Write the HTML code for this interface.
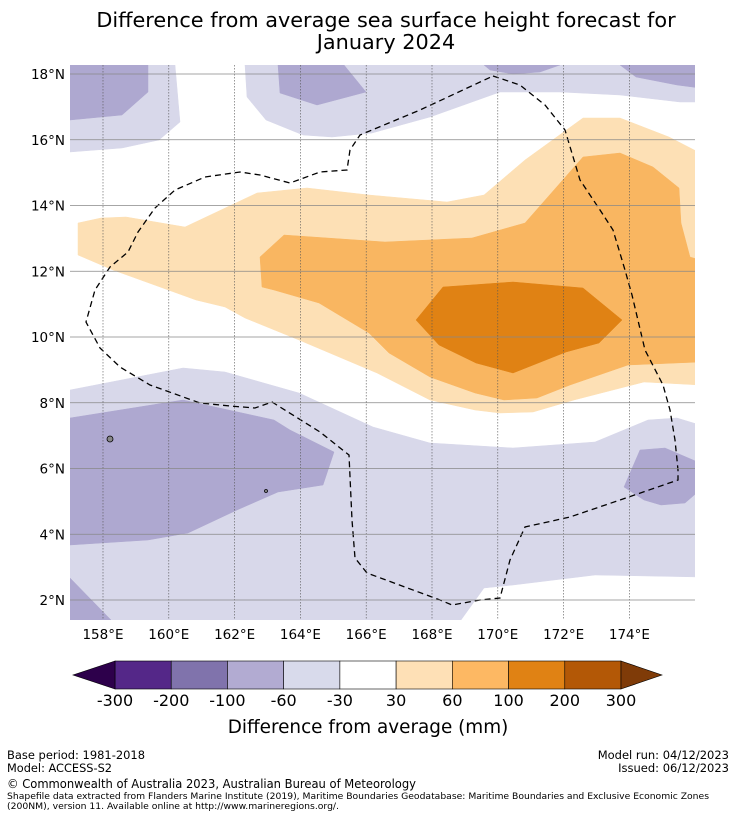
<!DOCTYPE html>
<html><head><meta charset="utf-8">
<style>
html,body{margin:0;padding:0;background:#fff;}
body{width:736px;height:816px;overflow:hidden;font-family:"DejaVu Sans","Liberation Sans",sans-serif;}
svg text{font-family:"DejaVu Sans","Liberation Sans",sans-serif;}
</style></head>
<body>
<svg id="chart" width="736" height="816" xmlns="http://www.w3.org/2000/svg">
<text x="386" y="27" font-size="20.8" text-anchor="middle">Difference from average sea surface height forecast for</text>
<text x="386" y="49" font-size="20.8" text-anchor="middle">January 2024</text>
<defs><clipPath id="mapclip"><rect x="70" y="65" width="625" height="555"/></clipPath></defs>
<g id="map" clip-path="url(#mapclip)"></g>
<g id="grid"></g>
<g id="axes"></g>
<g id="cbar"></g>
<text x="368" y="733" font-size="18.4" text-anchor="middle">Difference from average (mm)</text>
<g font-size="11.5">
<text x="7" y="759" textLength="138" lengthAdjust="spacingAndGlyphs">Base period: 1981-2018</text>
<text x="7" y="772" textLength="105" lengthAdjust="spacingAndGlyphs">Model: ACCESS-S2</text>
<text x="729" y="759" text-anchor="end">Model run: 04/12/2023</text>
<text x="729" y="772" text-anchor="end">Issued: 06/12/2023</text>
<text x="7" y="788" font-size="12" textLength="409" lengthAdjust="spacingAndGlyphs">© Commonwealth of Australia 2023, Australian Bureau of Meteorology</text>
<text x="7" y="799" font-size="9.2" textLength="702" lengthAdjust="spacingAndGlyphs">Shapefile data extracted from Flanders Marine Institute (2019), Maritime Boundaries Geodatabase: Maritime Boundaries and Exclusive Economic Zones</text>
<text x="7" y="809" font-size="9.2" textLength="332" lengthAdjust="spacingAndGlyphs">(200NM), version 11. Available online at http://www.marineregions.org/.</text>
</g>
</svg>
<script>
// Colorbar data
const levels = [-300,-200,-100,-60,-30,30,60,100,200,300];
const levelColors = ["#542788","#8073ac","#b2abd2","#d8daeb","#ffffff","#fee0b6","#fdb863","#e08214","#b35806"];
const extendColors = ["#2d004b","#7f3b08"];
const lonTicks = [158,160,162,164,166,168,170,172,174];
const latTicks = [2,4,6,8,10,12,14,16,18];

const NS="http://www.w3.org/2000/svg";
function mk(tag,attrs,parent){const e=document.createElementNS(NS,tag);for(const k in attrs)e.setAttribute(k,attrs[k]);parent.appendChild(e);return e;}
// axis functions
const xLon = lon => 103 + (lon-158)*32.9;
const yLat = lat => 74 + (18-lat)*32.875;

const map=document.getElementById('map');
const grid=document.getElementById('grid');
const axes=document.getElementById('axes');
const cbar=document.getElementById('cbar');

// contour outlines (screen-space outlines traced from the forecast field)
const contours = [
 {name:"contour-light-purple-nw", fill:"#d8d8ea", pts:[[70,65],[175,65],[180,122],[159,140],[122,148],[70,152]]},
 {name:"contour-purple-nw", fill:"#aea8d0", pts:[[70,65],[148,65],[148,92],[122,115],[70,120]]},
 {name:"contour-light-purple-north", fill:"#d8d8ea", pts:[[245,65],[700,65],[700,102],[680,102],[620,95],[560,92],[500,92],[430,117],[372,133],[332,137],[303,135],[266,120],[247,97]]},
 {name:"contour-purple-north-a", fill:"#aea8d0", pts:[[278,65],[344,65],[366,92],[317,105],[280,93]]},
 {name:"contour-purple-north-b", fill:"#aea8d0", pts:[[484,65],[560,65],[540,72],[513,74],[490,70]]},
 {name:"contour-purple-north-c", fill:"#aea8d0", pts:[[620,65],[700,65],[700,88],[677,85],[636,77]]},
 {name:"contour-light-orange", fill:"#fde0b5", pts:[[78,223],[101,218],[126,217],[185,227],[257,193],[307,188],[369,195],[447,202],[484,195],[525,160],[583,118],[620,118],[669,137],[700,153],[700,385],[644,382],[574,400],[533,412],[500,413],[475,410],[430,400],[377,373],[299,340],[245,318],[225,307],[196,300],[113,270],[78,255]]},
 {name:"contour-medium-orange", fill:"#f9b661", pts:[[260,257],[284,235],[385,242],[472,238],[525,223],[583,157],[620,153],[653,167],[679,188],[681,223],[690,257],[700,260],[700,362],[628,365],[570,385],[537,398],[504,400],[475,393],[430,377],[389,353],[369,333],[319,303],[274,290],[262,287]]},
 {name:"contour-dark-orange", fill:"#e08214", pts:[[443,287],[513,282],[583,288],[622,320],[599,343],[566,352],[513,373],[476,363],[439,345],[416,320]]},
 {name:"contour-light-purple-south", fill:"#d8d8ea", pts:[[70,390],[183,368],[225,372],[299,393],[373,427],[430,443],[513,448],[595,442],[648,420],[677,418],[700,425],[700,577],[595,575],[513,585],[484,588],[461,620],[70,620]]},
 {name:"contour-purple-southwest", fill:"#aea8d0", pts:[[70,418],[183,400],[274,420],[290,430],[334,452],[323,485],[278,492],[237,510],[188,533],[148,540],[70,545]]},
 {name:"contour-purple-corner", fill:"#aea8d0", pts:[[70,578],[111,620],[70,620]]},
 {name:"contour-purple-east", fill:"#aea8d0", pts:[[640,450],[665,448],[700,463],[700,490],[685,503],[661,505],[644,500],[624,487]]}
];
contours.forEach(c=>{
 const p=mk('polygon',{points:c.pts.map(q=>q.join(',')).join(' '),fill:c.fill,stroke:c.fill,'stroke-width':0.5},map);
 
 
});
// EEZ boundary
const eez=[[493,76],[520,85],[545,105],[565,130],[580,180],[600,210],[613,230],[625,270],[632,295],[645,350],[663,385],[670,410],[675,440],[678,470],[678,480],[620,500],[570,517],[525,527],[510,560],[500,598],[480,600],[452,605],[440,600],[367,573],[355,558],[352,520],[349,455],[320,432],[272,402],[255,408],[230,406],[200,403],[150,385],[120,367],[100,348],[86,322],[95,290],[110,267],[128,252],[138,232],[155,208],[175,190],[205,177],[240,172],[260,175],[290,183],[320,172],[347,170],[350,150],[360,135],[420,110],[493,76]];
const eezLine=mk('polyline',{points:eez.map(q=>q.join(',')).join(' '),fill:'none',stroke:'#000','stroke-width':1.3,'stroke-dasharray':'6,4'},map);


// small islands
[[110,439,3],[266,491,1.5]].forEach(q=>{
 const c=mk('circle',{cx:q[0],cy:q[1],r:q[2],fill:'#888',stroke:'#000','stroke-width':0.8},map);
 
 
});

// gridlines and ticks
lonTicks.forEach(l=>{
 const x=xLon(l);
 const g=mk('line',{x1:x,y1:65,x2:x,y2:620,stroke:'#555','stroke-width':0.6,'stroke-dasharray':'1.5,1.5'},grid);
 
 
 const t=mk('text',{x:x,y:639,'font-size':13.5,'text-anchor':'middle'},axes);
 t.textContent=l+'°E';
 
 
});
latTicks.forEach(l=>{
 const y=yLat(l);
 const g=mk('line',{x1:70,y1:y,x2:695,y2:y,stroke:'#888','stroke-width':0.8},grid);
 
 
 const t=mk('text',{x:65,y:y+5,'font-size':13.5,'text-anchor':'end'},axes);
 t.textContent=l+'°N';
 
 
});

// colorbar
const cx0=115,cx1=621,cy=661,ch=28;
const segW=(cx1-cx0)/levelColors.length;
const cxOf = i => cx0 + i*segW;
levelColors.forEach((col,i)=>{
 const r=mk('rect',{x:cxOf(i),y:cy,width:segW,height:ch,fill:col,stroke:'#000','stroke-width':0.6},cbar);
 
 
});
const el=mk('polygon',{points:`${cx0},${cy} ${cx0},${cy+ch} 73,${cy+ch/2}`,fill:extendColors[0],stroke:'#000','stroke-width':0.6},cbar);


const er=mk('polygon',{points:`${cx1},${cy} ${cx1},${cy+ch} 662,${cy+ch/2}`,fill:extendColors[1],stroke:'#000','stroke-width':0.6},cbar);


levels.forEach((v,i)=>{
 const t=mk('text',{x:cxOf(i),y:706,'font-size':16,'text-anchor':'middle'},cbar);
 t.textContent=v;
 
 
});
</script>
</body></html>
